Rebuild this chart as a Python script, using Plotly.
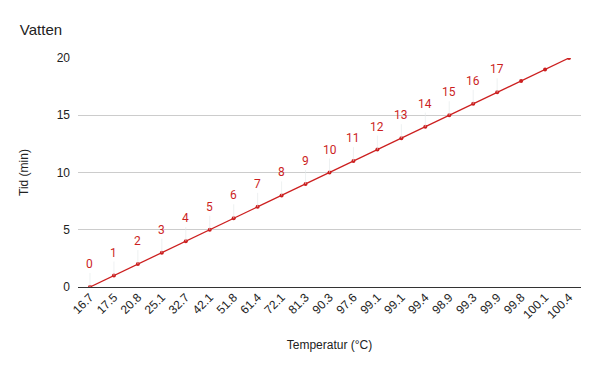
import plotly.graph_objects as go

temps = ["16.7", "17.5", "20.8", "25.1", "32.7", "42.1", "51.8", "61.4", "72.1", "81.3",
         "90.3", "97.6", "99.1", "99.1", "99.4", "98.9", "99.3", "99.9", "99.8", "100.1", "100.4"]
tid = [0, 1, 2, 3, 4, 5, 6, 7, 8, 9, 10, 11, 12, 13, 14, 15, 16, 17, 18, 19, 20]
labeled_count = 18  # data labels shown for first 18 points

idx = list(range(len(temps)))
RED = "#cc1f1f"

fig = go.Figure()
fig.add_trace(go.Scatter(
    x=idx, y=tid, mode="lines+markers",
    line=dict(color=RED, width=1.3),
    marker=dict(color=RED, size=4),
    hoverinfo="skip", showlegend=False,
))

for i in range(labeled_count):
    fig.add_annotation(
        x=idx[i], y=tid[i], text=str(tid[i]),
        showarrow=True, arrowhead=0, arrowwidth=0.6, arrowcolor="#e3e8ea",
        ax=0, ay=-14, yanchor="bottom",
        font=dict(family="Roboto", size=12, color=RED),
    )

fig.update_layout(
    width=592, height=363,
    margin=dict(l=70, r=19, t=50, b=84),
    paper_bgcolor="white", plot_bgcolor="white",
    font=dict(family="Liberation Sans, Arial", size=12, color="#222222"),
    title=dict(text="Vatten", x=0.02, xanchor="left", y=0.939, yanchor="middle",
               font=dict(family="Liberation Sans, Arial", size=15, color="#222222")),
    xaxis=dict(
        tickmode="array", tickvals=idx, ticktext=temps, tickangle=-45,
        range=[-0.5, len(temps) - 0.5], showgrid=False, zeroline=False,
        ticks="", showline=False, tickfont=dict(size=12),
        title=dict(text="Temperatur (°C)", font=dict(size=12), standoff=20),
    ),
    yaxis=dict(
        range=[0, 20], tickvals=[0, 5, 10, 15, 20], showgrid=True,
        gridcolor="#cccccc", gridwidth=1, zeroline=True, zerolinecolor="#333333",
        zerolinewidth=1, ticks="", ticklabelstandoff=7, tickfont=dict(size=12),
        title=dict(text="Tid (min)", font=dict(size=12), standoff=25),
    ),
)

fig.write_html("out.html")
